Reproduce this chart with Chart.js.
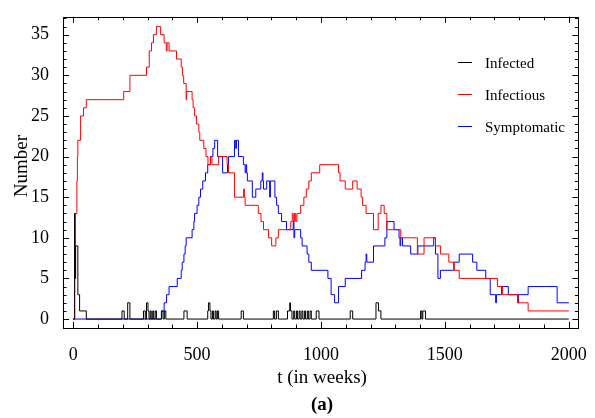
<!DOCTYPE html>
<html><head><meta charset="utf-8">
<script src="https://cdn.jsdelivr.net/npm/chart.js@4/dist/chart.umd.min.js"></script>
<style>html,body{margin:0;padding:0;background:#fff;} canvas{display:block;}</style>
</head><body>
<canvas id="c" width="595" height="418"></canvas>
<script>
// [t (weeks), count] — each value holds from t onward (step curves)
const infected = [
[0,0],[6,13],[8,5],[10,9],[19,3],[26,1],[53,0],
[197,1],[206,0],[220,2],[229,0],
[284,1],[291,0],[296,2],[302,1],[306,0],[311,1],[315,0],[321,1],[325,0],[331,1],[336,0],
[357,1],[363,0],[368,1],[374,0],
[447,1],[460,0],
[543,1],[546,2],[552,1],[556,0],[562,1],[566,0],[573,1],[577,0],[582,1],[587,0],
[678,1],[687,0],
[808,1],[813,0],[820,1],[828,0],
[865,1],[874,2],[877,1],[883,0],[890,1],[894,0],[901,1],[905,0],[912,1],[916,0],[923,1],[927,0],[934,1],[938,0],[945,1],[949,0],[956,1],[961,0],
[981,1],[992,0],
[1118,1],[1128,0],
[1222,2],[1232,1],[1242,0],
[1402,1],[1407,0],[1411,1],[1422,0],
[2000,0]
];
const infectious = [
[0,0],[6,13],[15,17],[17,20],[19,22],[30,25],[42,26],[53,27],[204,28],[229,30],[296,31],[307,33],[316,34],[324,35],[336,36],[353,35],[367,34],[376,33],[379,34],[387,33],[417,32],[436,31],[441,30],[446,29],[456,27],[458,28],[480,27],[484,26],[490,25],[498,24],[507,23],[511,22],[527,21],[536,20],[544,19],[554,20],[560,19],[587,20],[621,19],[627,18],[651,15],[688,16],[691,15],[694,14],[747,13],[758,12],[768,11],[788,10],[801,9],[818,10],[828,11],[878,12],[884,13],[888,12],[893,13],[898,12],[903,13],[918,14],[931,15],[941,16],[951,17],[961,18],[995,19],[1071,18],[1077,17],[1098,16],[1128,17],[1146,16],[1162,15],[1168,14],[1182,13],[1212,11],[1231,13],[1242,14],[1255,13],[1266,11],[1322,10],[1389,8],[1416,10],[1462,9],[1482,8],[1516,7],[1538,6],[1558,5],[1712,4],[1733,3],[1796,2],[1836,1],[2000,1]
];
const symptomatic = [
[0,0],[356,1],[367,2],[377,3],[387,4],[420,5],[436,6],[440,7],[447,8],[452,9],[456,10],[480,11],[487,12],[490,13],[500,14],[507,15],[514,16],[523,17],[534,18],[543,19],[554,20],[564,21],[571,22],[583,20],[603,18],[623,19],[627,20],[651,22],[656,21],[659,22],[667,20],[687,19],[694,18],[698,19],[700,18],[703,17],[723,15],[737,16],[757,17],[763,18],[766,17],[768,16],[781,17],[793,15],[796,17],[814,15],[821,14],[828,13],[841,12],[861,11],[888,12],[891,10],[894,11],[918,10],[924,9],[944,8],[951,7],[961,6],[1028,5],[1041,3],[1055,2],[1071,4],[1098,5],[1164,6],[1178,7],[1182,8],[1185,7],[1212,9],[1258,10],[1266,12],[1295,11],[1315,10],[1319,9],[1322,10],[1329,9],[1362,8],[1391,9],[1455,10],[1462,8],[1472,5],[1482,6],[1536,7],[1558,8],[1612,7],[1629,6],[1665,5],[1683,3],[1705,2],[1708,3],[1729,4],[1756,3],[1794,2],[1797,3],[1836,4],[1953,2],[2000,2]
];
const seriesNames = ['Infected','Infectious','Symptomatic'];
const xTickValues = [0,500,1000,1500,2000];
const yTickValues = [0,5,10,15,20,25,30,35];
const xTitle = 't (in weeks)';
const yTitle = 'Number';
const panelLabel = '(a)';

const colors = ['#000000','#ff0000','#0000ff'];
const SERIF = '"Liberation Serif", "Times New Roman", serif';
const toXY = arr => arr.map(p => ({x:p[0], y:p[1]}));

const decor = {
  id:'decor',
  afterDatasetsDraw(chart){
    const ctx = chart.ctx, a = chart.chartArea, xs = chart.scales.x, ys = chart.scales.y;
    ctx.save();
    ctx.strokeStyle = '#000'; ctx.lineWidth = 1;
    ctx.beginPath();
    for (let t = 0; t <= 2000; t += 100) {
      const px = Math.round(xs.getPixelForValue(t)) + 0.5;
      const len = (t % 500 === 0) ? 6 : 3.5;
      ctx.moveTo(px, a.bottom); ctx.lineTo(px, a.bottom - len);
      ctx.moveTo(px, a.top); ctx.lineTo(px, a.top + len);
    }
    for (let v = 0; v <= 37; v += 1) {
      const py = Math.round(ys.getPixelForValue(v)) + 0.5;
      const len = (v % 5 === 0) ? 6 : 3.5;
      ctx.moveTo(a.left, py); ctx.lineTo(a.left + len, py);
      ctx.moveTo(a.right, py); ctx.lineTo(a.right - len, py);
    }
    ctx.stroke();
    ctx.strokeRect(Math.round(a.left)+0.5, Math.round(a.top)+0.5, Math.round(a.right-a.left), Math.round(a.bottom-a.top));
    // legend
    ctx.font = '15px ' + SERIF;
    ctx.textBaseline = 'middle'; ctx.textAlign = 'left';
    const ly = [64, 96, 128];
    seriesNames.forEach((n,i) => {
      ctx.strokeStyle = colors[i];
      ctx.beginPath(); ctx.moveTo(458, ly[i]-1.5); ctx.lineTo(472, ly[i]-1.5); ctx.stroke();
      ctx.fillStyle = '#000';
      ctx.fillText(n, 485, ly[i]);
    });
    // titles
    ctx.fillStyle = '#000';
    ctx.font = '19px ' + SERIF;
    ctx.textAlign = 'center';
    ctx.fillText(xTitle, 322, 378);
    ctx.font = 'bold 19px ' + SERIF;
    ctx.fillText(panelLabel, 322, 405);
    ctx.font = '19px ' + SERIF;
    ctx.translate(22, 166); ctx.rotate(-Math.PI/2);
    ctx.fillText(yTitle, 0, 0);
    ctx.restore();
  }
};

const mk = (data, i) => ({
  label: seriesNames[i], data: toXY(data), borderColor: colors[i], backgroundColor: colors[i],
  borderWidth: 1, pointRadius: 0, stepped: 'before', fill: false, tension: 0
});

new Chart(document.getElementById('c'), {
  type: 'line',
  data: { datasets: [mk(infected,0), mk(infectious,1), mk(symptomatic,2)] },
  options: {
    responsive: false, animation: false, devicePixelRatio: 1,
    layout: { padding: { left: 0, right: 12, top: 8, bottom: 0 } },
    plugins: { legend: { display: false }, tooltip: { enabled: false } },
    scales: {
      x: {
        type: 'linear', min: -41, max: 2039,
        afterBuildTicks: s => { s.ticks = xTickValues.map(v => ({value: v})); },
        afterFit: s => { s.height = 90; },
        grid: { display: false }, border: { display: false },
        ticks: { color: '#000', font: { family: SERIF, size: 18 }, padding: 8, maxRotation: 0, autoSkip: false, callback: v => String(v) }
      },
      y: {
        type: 'linear', min: -1.1, max: 37.2,
        afterBuildTicks: s => { s.ticks = yTickValues.map(v => ({value: v})); },
        afterFit: s => { s.width = 63; },
        grid: { display: false }, border: { display: false },
        ticks: { color: '#000', font: { family: SERIF, size: 18 }, padding: 6, autoSkip: false, callback: v => String(v) }
      }
    }
  },
  plugins: [decor]
});
</script>
</body></html>
